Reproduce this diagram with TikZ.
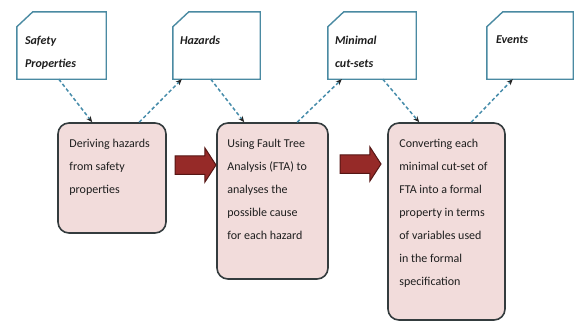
\documentclass[tikz,border=0pt]{standalone}
\usepackage{fontspec}
\setmainfont{Carlito}
\usetikzlibrary{arrows.meta,shapes.arrows}

\definecolor{cardedge}{RGB}{74,138,162}
\definecolor{linkcol}{RGB}{70,140,170}
\definecolor{stepfill}{RGB}{242,220,219}
\definecolor{stepedge}{RGB}{52,60,62}
\definecolor{flowfill}{RGB}{150,42,40}
\definecolor{flowedge}{RGB}{85,22,20}
\definecolor{ink}{RGB}{30,30,30}

\begin{document}
\begin{tikzpicture}[x=1pt,y=-1pt,
  cardbox/.style={rectangle, inner sep=0pt, minimum height=67pt},
  cardline/.style={draw=cardedge, line width=1.4pt, fill=white},
  cardtext/.style={anchor=north west, inner sep=0pt, align=left, text=ink,
    font=\fontsize{12}{23}\selectfont\bfseries\itshape},
  stepbox/.style={rectangle, rounded corners=11pt, draw=stepedge, line width=1.6pt,
    fill=stepfill, inner sep=0pt},
  steptext/.style={anchor=north west, inner sep=0pt, align=left, text=ink,
    font=\fontsize{12}{23}\selectfont},
  link/.style={draw=linkcol, line width=1.5pt, dash pattern=on 3.5pt off 2.5pt,
    -{Stealth[length=6pt,width=5pt,color=black!85]}},
  flow/.style={single arrow, draw=flowedge, fill=flowfill, line width=1pt,
    inner xsep=0pt, inner ysep=8pt, minimum height=41pt, minimum width=34pt,
    single arrow tip angle=114, single arrow head indent=0pt}
]
\path[fill=white] (0,0) rectangle (575,322);
\useasboundingbox (0,0) rectangle (575,322);

% data cards
\node[cardbox, minimum width=89pt] (sp) at (61.5,45.5) {};
\node[cardbox, minimum width=87pt] (hz) at (216.5,45.5) {};
\node[cardbox, minimum width=88pt] (mc) at (372,45.5) {};
\node[cardbox, minimum width=86pt] (ev) at (530,45.5) {};
\foreach \c in {sp,hz,mc,ev}
  \draw[cardline] (\c.south west) -- (\c.south east) -- (\c.north east)
    -- ([xshift=16pt]\c.north west) -- ([yshift=-15pt]\c.north west) -- cycle;

\node[cardtext] (spt) at ([xshift=8pt,yshift=-24pt]sp.north west) {Safety\\Properties};
\node[cardtext] (hzt) at ([xshift=7pt,yshift=-24pt]hz.north west) {Hazards};
\node[cardtext] (mct) at ([xshift=7pt,yshift=-24pt]mc.north west) {Minimal\\cut-sets};
\node[cardtext] (evt) at ([xshift=9pt,yshift=-24pt]ev.north west) {Events};

% process steps
\node[stepbox, minimum width=108pt, minimum height=110pt] (d1) at (112,178) {};
\node[stepbox, minimum width=111pt, minimum height=156pt] (d2) at (272.5,201) {};
\node[stepbox, minimum width=117pt, minimum height=197pt] (d3) at (446.5,221.5) {};

\node[steptext] (d1t) at ([xshift=12pt,yshift=-16.5pt]d1.north west)
  {Deriving hazards\\from safety\\properties};
\node[steptext] (d2t) at ([xshift=11pt,yshift=-16.5pt]d2.north west)
  {Using Fault Tree\\Analysis (FTA) to\\analyses the\\possible cause\\for each hazard};
\node[steptext] (d3t) at ([xshift=12pt,yshift=-16.5pt]d3.north west)
  {Converting each\\minimal cut-set of\\FTA into a formal\\property in terms\\of variables used\\in the formal\\specification};

% block arrows between steps
\node[flow] (a1) at (192.5,165) {};
\node[flow] (a2) at (357.5,164) {};

% dashed data links
\draw[link] ([xshift=42pt]sp.south west) -- ([xshift=35pt]d1.north west);
\draw[link] ([xshift=82pt]d1.north west) -- ([xshift=9pt]hz.south west);
\draw[link] ([xshift=38pt]hz.south west) -- ([xshift=28pt]d2.north west);
\draw[link] ([xshift=81pt]d2.north west) -- ([xshift=14pt]mc.south west);
\draw[link] ([xshift=55pt]mc.south west) -- ([xshift=32pt]d3.north west);
\draw[link] ([xshift=84pt]d3.north west) -- ([xshift=26pt]ev.south west);
\end{tikzpicture}
\end{document}
